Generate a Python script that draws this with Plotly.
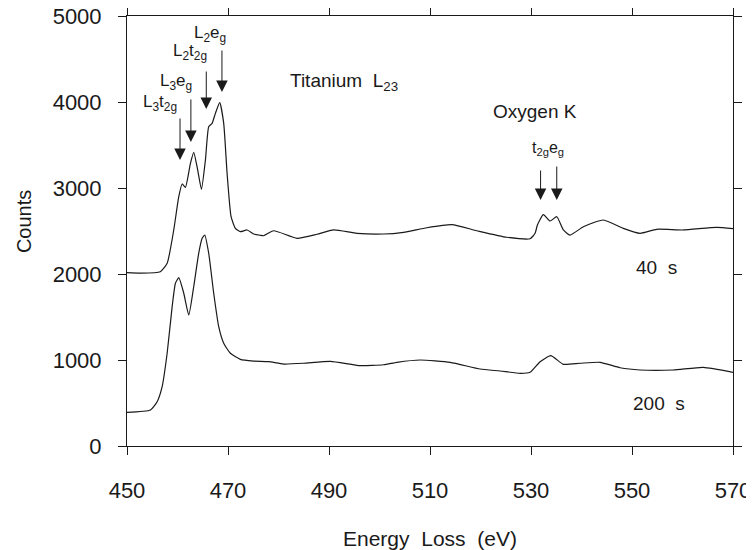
import plotly.graph_objects as go

# ---- data ----
energy_40s = [450.0, 452.7, 456.6, 457.95, 459.26, 460.25, 460.92, 461.57, 462.56, 463.21,
              464.0, 464.74, 465.53, 466.18, 466.85, 467.51, 468.36, 469.15, 469.82, 470.61,
              471.46, 472.45, 473.78, 475.08, 476.41, 477.06, 479.04, 483.67, 487.63, 490.91,
              495.54, 500.8, 504.76, 509.39, 514.33, 519.28, 525.21, 529.82, 530.81, 531.27,
              532.45, 533.78, 535.1, 536.41, 537.73, 540.37, 544.32, 548.28, 551.58, 554.89,
              560.15, 566.76, 570.0]
counts_40s = [2015, 2010, 2027, 2124, 2512, 2899, 3047, 3008, 3287, 3415,
              3209, 2985, 3326, 3713, 3752, 3869, 3992, 3752, 3171, 2666,
              2531, 2492, 2512, 2465, 2450, 2445, 2503, 2415, 2462, 2512,
              2473, 2465, 2485, 2538, 2573, 2503, 2427, 2410, 2473, 2570,
              2690, 2616, 2666, 2512, 2453, 2550, 2628, 2531, 2473, 2520,
              2512, 2543, 2527]

energy_200s = [450.0, 454.65, 455.97, 456.96, 457.95, 458.94, 459.59, 460.25, 461.24, 462.23,
               463.21, 464.2, 464.88, 465.39, 466.18, 467.17, 468.16, 469.15, 470.47, 472.45,
               475.08, 478.05, 481.02, 484.98, 490.26, 496.19, 500.8, 503.45, 508.06, 514.0,
               519.93, 523.89, 527.84, 529.82, 531.8, 533.92, 536.41, 539.71, 543.67, 547.63,
               551.58, 558.17, 564.1, 570.0]
counts_200s = [392, 419, 515, 690, 1078, 1620, 1892, 1957, 1776, 1523,
               1852, 2241, 2415, 2453, 2241, 1776, 1387, 1194, 1078, 1008,
               988, 980, 953, 962, 985, 934, 945, 973, 1000, 973,
               895, 872, 845, 857, 980, 1050, 950, 962, 973, 910,
               884, 884, 915, 857]

x_ticks = [450, 470, 490, 510, 530, 550, 570]
y_ticks = [0, 1000, 2000, 3000, 4000, 5000]

FONT = "Liberation Sans, Arial, Helvetica, sans-serif"
INK = "#1a1a1a"

fig = go.Figure()
fig.add_trace(go.Scatter(x=energy_40s, y=counts_40s, mode="lines", name="40 s",
                         line=dict(color=INK, width=1.2, shape="spline", smoothing=0.5)))
fig.add_trace(go.Scatter(x=energy_200s, y=counts_200s, mode="lines", name="200 s",
                         line=dict(color=INK, width=1.2, shape="spline", smoothing=0.5)))

annotations = []

def label(text, x, y, size=17, xanchor="center"):
    annotations.append(dict(text=text, x=x, y=y, xref="x", yref="y", showarrow=False,
                            xanchor=xanchor, yanchor="middle",
                            font=dict(family=FONT, size=size, color=INK)))

def arrow(x, y_tip, y_tail):
    annotations.append(dict(text="", x=x, y=y_tip, ax=x, ay=y_tail, xref="x", yref="y",
                            axref="x", ayref="y", showarrow=True, arrowhead=2,
                            arrowsize=2.3, arrowwidth=1.0, arrowcolor=INK))

label("Titanium  L<sub>23</sub>", 481.9, 4233, size=19, xanchor="left")
label("Oxygen K", 530.8, 3884, size=19)
label("t<sub>2g</sub>e<sub>g</sub>", 533.3, 3465, size=16)
label("L<sub>2</sub>e<sub>g</sub>", 466.5, 4791)
label("L<sub>2</sub>t<sub>2g</sub>", 462.4, 4581)
label("L<sub>3</sub>e<sub>g</sub>", 459.8, 4233)
label("L<sub>3</sub>t<sub>2g</sub>", 456.6, 3988)
label("40  s", 554.9, 2081, size=19)
label("200  s", 555.3, 500, size=19)

arrow(460.5, 3326, 3826)
arrow(462.65, 3535, 4047)
arrow(465.7, 3919, 4372)
arrow(468.8, 4116, 4616)
arrow(531.9, 2860, 3221)
arrow(535.1, 2860, 3267)

annotations.append(dict(text="Counts", xref="paper", yref="paper", x=-0.17, y=0.523,
                        showarrow=False, textangle=-90, xanchor="center", yanchor="middle",
                        font=dict(family=FONT, size=20, color=INK)))
annotations.append(dict(text="Energy  Loss  (eV)", xref="paper", yref="paper", x=0.5, y=-0.214,
                        showarrow=False, xanchor="center", yanchor="middle",
                        font=dict(family=FONT, size=21, color=INK)))

axis_common = dict(showline=True, linecolor=INK, linewidth=1, mirror="ticks",
                   ticks="outside", ticklen=8, tickcolor=INK, tickwidth=1,
                   showgrid=False, zeroline=False, automargin=False,
                   ticklabeloverflow="allow",
                   tickfont=dict(family=FONT, size=22, color=INK))

# the page body adds an 8 px offset, so the figure is 8 px smaller on each side
fig.update_layout(
    width=746, height=542,
    margin=dict(l=119, r=21, t=8, b=104),
    paper_bgcolor="white", plot_bgcolor="white",
    showlegend=False,
    annotations=annotations,
    xaxis=dict(range=[450, 570], tickmode="array", tickvals=x_ticks,
               ticklabelstandoff=17, **axis_common),
    yaxis=dict(range=[0, 5000], tickmode="array", tickvals=y_ticks,
               ticklabelstandoff=12, **axis_common),
)

fig.write_html("out.html")
